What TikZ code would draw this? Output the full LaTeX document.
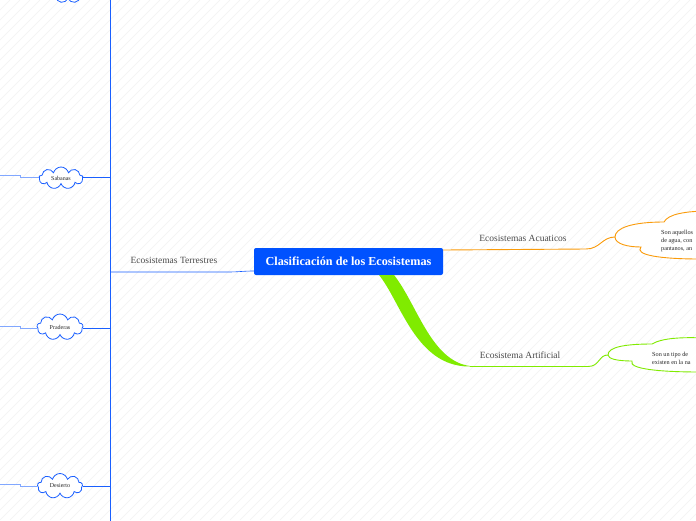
\documentclass[tikz,border=0pt]{standalone}
\usepackage{fontspec}
\setmainfont{Liberation Serif}
\usetikzlibrary{shapes.symbols, calc}

\definecolor{mapblue}{RGB}{25,95,255}
\definecolor{nodeblue}{RGB}{0,82,255}
\definecolor{maporange}{RGB}{250,155,10}
\definecolor{mapgreen}{RGB}{128,235,0}
\definecolor{labelgray}{RGB}{75,75,75}

\begin{document}
\begin{tikzpicture}[
      x=1pt, y=-1pt,
      central/.style={rectangle, rounded corners=2pt, fill=nodeblue, text=white,
        font=\fontsize{12.2}{14}\selectfont\bfseries, minimum width=189pt,
        minimum height=27pt, inner sep=0pt},
      branchlabel/.style={text=labelgray, font=\fontsize{9.5}{11}\selectfont, inner sep=0pt},
      bubble/.style={cloud, cloud puffs=9, aspect=2, draw=mapblue, fill=white,
        line width=0.8pt, text=black!85, font=\fontsize{6}{7}\selectfont, inner sep=0pt},
      bubbletext/.style={anchor=west, align=left, text=black!85, inner sep=0pt,
        font=\fontsize{6.2}{7.6}\selectfont}
  ]
      \useasboundingbox (0,0) rectangle (696,520);

      % Fondo rayado
      \begin{scope}
          \clip (0,0) rectangle (696,520);
          \fill[white] (0,0) rectangle (696,520);
          \foreach \i in {-520,-510,...,700} {
              \draw[black!5, line width=0.6pt] (\i,520) -- (\i+520,0);
          }
      \end{scope}

      % Tema central
      \node[central] (tema) at (348.5,261.5) {Clasificación de los Ecosistemas};

      % Rama izquierda (azul)
      \coordinate (eje) at (110,272);
      \draw[mapblue, thick] (110,-20) -- (110,540);
      \draw[mapblue, semithick] (tema.west |- 0,271) to[out=180, in=0] (228,272) -- (eje);
      \node[branchlabel] (terrestres) at (174,260) {Ecosistemas Terrestres};

      % Nubes de la rama izquierda
      \node[bubble, minimum width=40pt, minimum height=24pt] (arriba) at (68,-9) {\phantom{Bosque}};
      \node[bubble, minimum width=44pt, minimum height=22pt] (sabanas) at (61,178) {Sabanas};
      \node[bubble, minimum width=46pt, minimum height=26pt] (praderas) at (60,327) {Praderas};
      \node[bubble, minimum width=45pt, minimum height=25pt] (desierto) at (60,486) {Desierto};

      \foreach \n/\y in {arriba/-9, sabanas/177, praderas/328, desierto/486} {
          \draw[mapblue, semithick] (\n.east |- 0,\y) -- (110,\y);
          \coordinate (borde-\n) at (-2,\y-2);
          \draw[mapblue!55, semithick] (\n.west |- 0,\y) -- (20,\y) -- (20,\y-2) -- (borde-\n);
      }

      % Rama derecha (naranja)
      \node[branchlabel] (acuaticos) at (523,238) {Ecosistemas Acuaticos};
      \coordinate (nubeacua) at (615,237);
      \filldraw[maporange, fill=white, line width=0.9pt] (nubeacua)
          .. controls (615,228) and (632,222) .. (664,222)
          .. controls (668,214) and (686,211) .. (710,211) -- (720,211) -- (720,259) -- (700,259)
          .. controls (660,259) and (634,255) .. (641,247)
          .. controls (628,247) and (615,244) .. (nubeacua) -- cycle;
      \node[bubbletext] (textoacua) at (661,241) {Son aquellos\\de agua, con\\pantanos, an};
      \draw[maporange, line width=0.9pt] (tema.east |- 0,250) -- (586,249)
          .. controls (600,249) and (602,237) .. (nubeacua);

      % Rama inferior (verde, gruesa al inicio)
      \coordinate (finverde) at (470,366.5);
      \fill[mapgreen] (379,275) .. controls (401,302) and (416,367) .. (finverde)
          -- (470,366) .. controls (431,361) and (417,304) .. (394,275) -- cycle;
      \node[branchlabel] (artificial) at (520,355) {Ecosistema Artificial};
      \coordinate (nubeart) at (608,355);
      \filldraw[mapgreen, fill=white, line width=0.9pt] (nubeart)
          .. controls (608,347) and (625,344) .. (652,344)
          .. controls (662,338) and (682,337) .. (705,338) -- (720,338) -- (720,372) -- (700,372)
          .. controls (660,372) and (628,369) .. (632,361)
          .. controls (618,361) and (608,359) .. (nubeart) -- cycle;
      \node[bubbletext] (textoart) at (652,358.5) {Son un tipo de\\existen en la na};
      \draw[mapgreen, line width=0.9pt] (finverde) -- (588,366.5)
          .. controls (600,366.5) and (598,355) .. (nubeart);

  \end{tikzpicture}
\end{document}
